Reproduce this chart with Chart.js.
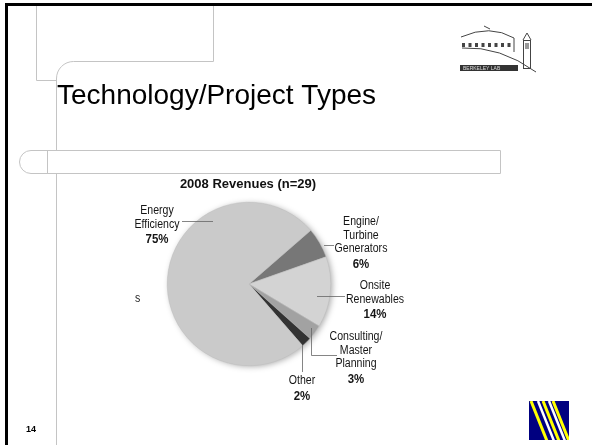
<!DOCTYPE html>
<html>
<head>
<meta charset="utf-8">
<script src="https://cdn.jsdelivr.net/npm/chart.js@4.4.1/dist/chart.umd.min.js"></script>
<style>
  html, body { margin: 0; padding: 0; background: #fff; }
  #wrap { width: 592px; height: 445px; position: relative; }
</style>
</head>
<body>
<div id="wrap"><canvas id="revChart" width="592" height="445"></canvas></div>
<script>
const categories = [
  ['Engine/', 'Turbine', 'Generators'],
  ['Onsite', 'Renewables'],
  ['Consulting/', 'Master', 'Planning'],
  ['Other'],
  ['Energy', 'Efficiency']
];
const shares = [6, 14, 3, 2, 75];
const sliceColors = ['#777777', '#d3d3d3', '#a2a2a2', '#333333', '#cacaca'];
const chartTitle = '2008 Revenues (n=29)';

const sans = '"Liberation Sans", Arial, sans-serif';

// label placement: centre x, first baseline, leader path
const labelLayout = [
  { x: 361, y: 225, leader: [[324, 245.5], [334, 245.5]] },
  { x: 375, y: 289, leader: [[317, 296.5], [345, 296.5]] },
  { x: 356, y: 340, leader: [[311.5, 328], [311.5, 355.5], [337, 355.5]] },
  { x: 302, y: 384, leader: [[302.5, 345], [302.5, 372]] },
  { x: 157, y: 214, leader: [[182, 221.5], [213, 221.5]] }
];

// Arial-Narrow look: squeeze regular text horizontally
function narrowText(ctx, text, x, y, sx) {
  ctx.save();
  ctx.translate(x, y);
  ctx.scale(sx, 1);
  ctx.fillText(text, 0, 0);
  ctx.restore();
}

function drawSlide(ctx) {
  ctx.save();
  // black frame (top + left)
  ctx.fillStyle = '#000';
  ctx.fillRect(5, 3, 587, 3);
  ctx.fillRect(5, 3, 3, 442);

  ctx.strokeStyle = '#c4c4c4';
  ctx.lineWidth = 1;
  ctx.beginPath();
  ctx.moveTo(36.5, 6); ctx.lineTo(36.5, 80.5); ctx.lineTo(56.5, 80.5);
  ctx.moveTo(56.5, 150); ctx.lineTo(56.5, 78);
  ctx.arcTo(56.5, 61.5, 74, 61.5, 17);
  ctx.lineTo(213.5, 61.5); ctx.lineTo(213.5, 6);
  ctx.moveTo(500.5, 150.5); ctx.lineTo(31, 150.5);
  ctx.arc(31, 162, 11.5, -Math.PI / 2, Math.PI / 2, true);
  ctx.lineTo(500.5, 173.5); ctx.lineTo(500.5, 150.5);
  ctx.moveTo(47.5, 150.5); ctx.lineTo(47.5, 173.5);
  ctx.moveTo(56.5, 173.5); ctx.lineTo(56.5, 445);
  ctx.stroke();

  // slide title
  ctx.fillStyle = '#000';
  ctx.font = '28px ' + sans;
  ctx.textAlign = 'left';
  ctx.textBaseline = 'alphabetic';
  ctx.fillText('Technology/Project Types', 57, 104);

  // page number
  ctx.font = 'bold 9px ' + sans;
  ctx.fillText('14', 26, 432);

  // stray label fragment
  ctx.font = '12px ' + sans;
  ctx.fillStyle = '#222';
  narrowText(ctx, 's', 135, 302, 0.88);

  // Berkeley Lab logo
  ctx.strokeStyle = '#444';
  ctx.lineWidth = 1;
  ctx.beginPath();
  ctx.moveTo(461, 37); ctx.quadraticCurveTo(490, 24, 514, 38);
  ctx.moveTo(484, 26); ctx.lineTo(490, 29);
  ctx.moveTo(462, 48); ctx.quadraticCurveTo(500, 46, 536, 72);
  ctx.moveTo(514, 38); ctx.lineTo(514, 52);
  ctx.stroke();
  ctx.fillStyle = '#444';
  for (let i = 0; i < 8; i++) ctx.fillRect(462 + i * 6.5, 43, 3, 4);
  ctx.strokeRect(523.5, 40.5, 7, 28);
  ctx.beginPath(); ctx.moveTo(523, 40); ctx.lineTo(527, 33); ctx.lineTo(531, 40); ctx.stroke();
  ctx.fillStyle = '#999'; ctx.fillRect(525, 43, 4, 6);
  ctx.fillStyle = '#333'; ctx.fillRect(460, 65, 58, 6);
  ctx.fillStyle = '#ddd'; ctx.font = '5px ' + sans;
  ctx.fillText('BERKELEY LAB', 463, 70);

  // blue corner logo
  ctx.fillStyle = '#000080';
  ctx.fillRect(529, 401, 40, 39);
  ctx.save();
  ctx.beginPath(); ctx.rect(529, 401, 40, 39); ctx.clip();
  const stripes = [[531, '#ffff00', 3], [538, '#ffffff', 2.5], [543, '#ffff00', 3], [549, '#ffffff', 2.5], [553, '#ffff00', 3]];
  stripes.forEach(s => {
    ctx.strokeStyle = s[1]; ctx.lineWidth = s[2];
    ctx.beginPath(); ctx.moveTo(s[0], 401); ctx.lineTo(s[0] + 16, 441); ctx.stroke();
  });
  ctx.restore();
  ctx.restore();
}

const slidePlugin = {
  id: 'slide',
  beforeDraw(chart) { drawSlide(chart.ctx); },
  beforeDatasetsDraw(chart) {
    // soft shadow behind the pie
    const arc = chart.getDatasetMeta(0).data[0];
    const ctx = chart.ctx;
    ctx.save();
    ctx.shadowColor = 'rgba(0,0,0,0.35)';
    ctx.shadowBlur = 6;
    ctx.shadowOffsetX = 2;
    ctx.shadowOffsetY = 1;
    ctx.fillStyle = '#cacaca';
    ctx.beginPath();
    ctx.arc(arc.x, arc.y, arc.outerRadius - 0.5, 0, Math.PI * 2);
    ctx.fill();
    ctx.restore();
  },
  afterDatasetsDraw(chart) {
    const ctx = chart.ctx;
    ctx.save();
    ctx.fillStyle = '#111';
    ctx.font = 'bold 13px ' + sans;
    ctx.textAlign = 'center';
    ctx.textBaseline = 'alphabetic';
    ctx.fillText(chartTitle, 248, 188);

    // the pasted chart image is cut off at the left
    ctx.beginPath();
    ctx.rect(133, 0, 459, 445);
    ctx.clip();

    chart.data.labels.forEach((lines, i) => {
      const L = labelLayout[i];
      ctx.strokeStyle = '#666';
      ctx.lineWidth = 0.8;
      ctx.beginPath();
      L.leader.forEach((p, k) => k ? ctx.lineTo(p[0], p[1]) : ctx.moveTo(p[0], p[1]));
      ctx.stroke();
      ctx.textAlign = 'center';
      ctx.fillStyle = '#151515';
      ctx.font = '12px ' + sans;
      let y = L.y;
      lines.forEach(t => { narrowText(ctx, t, L.x, y, 0.88); y += 13.5; });
      ctx.font = 'bold 13.5px ' + sans;
      narrowText(ctx, chart.data.datasets[0].data[i] + '%', L.x, y + 2, 0.85);
    });
    ctx.restore();
  }
};

new Chart(document.getElementById('revChart'), {
  type: 'pie',
  data: {
    labels: categories,
    datasets: [{
      data: shares,
      backgroundColor: sliceColors,
      borderColor: '#bdbdbd',
      borderWidth: 0.5
    }]
  },
  options: {
    responsive: false,
    animation: false,
    rotation: 49,
    layout: { padding: { left: 167, right: 261, top: 202, bottom: 79 } },
    plugins: {
      legend: { display: false },
      tooltip: { enabled: false },
      title: { display: false }
    }
  },
  plugins: [slidePlugin]
});
</script>
</body>
</html>
